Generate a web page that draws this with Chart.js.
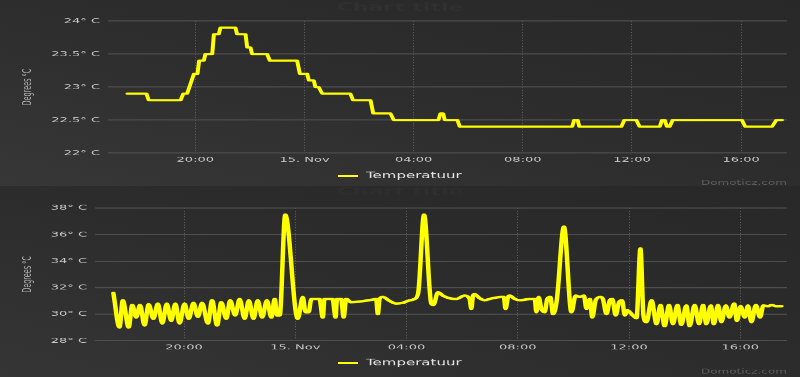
<!DOCTYPE html>
<html>
<head>
<meta charset="utf-8">
<title>Temperatuur</title>
<script src="https://cdn.jsdelivr.net/npm/chart.js@4.4.1/dist/chart.umd.min.js"></script>
<style>
    html, body {
        margin: 0;
        padding: 0;
        width: 800px;
        height: 377px;
        overflow: hidden;
        background: #2b2b2b;
    }
    .panel {
        position: relative;
        width: 800px;
        overflow: hidden;
    }
    /* the source screenshot is squashed vertically, so draw tall and scale down */
    .panel canvas {
        display: block;
        transform-origin: 0 0;
        transform: scaleY(0.55);
    }
    #topPanel {
        height: 186px;
        background: linear-gradient(to bottom left, #282828 0%, #2d2d2d 50%, #373737 100%);
    }
    #bottomPanel {
        height: 191px;
        background: linear-gradient(to bottom left, #282828 0%, #2c2c2c 50%, #353535 100%);
    }
</style>
</head>
<body>
<div class="panel" id="topPanel"><canvas id="topChart" width="800" height="338"></canvas></div>
<div class="panel" id="bottomPanel"><canvas id="bottomChart" width="800" height="347"></canvas></div>

<script>
// x values are hours relative to 15 Nov 00:00
const xTickHours = [-4, 0, 4, 8, 12, 16];
const xTickLabels = ['20:00', '15. Nov', '04:00', '08:00', '12:00', '16:00'];
const xMin = -7.2;
const xMax = 17.68;

const seriesName = 'Temperatuur';
const axisTitle = 'Degrees °C';
const chartTitle = 'Chart title';
const creditText = 'Domoticz.com';

// top chart
const topTicks = [22, 22.5, 23, 23.5, 24];
const topHours = [
    -6.49, -5.79, -5.71, -4.54, -4.44, -4.30, -4.05, -3.92, -3.86, -3.69,
    -3.63, -3.38, -3.32, -3.14, -3.08, -2.53, -2.47, -2.16, -2.10, -1.98,
    -1.92, -1.37, -1.27, -0.27, -0.17, 0.10, 0.16, 0.34, 0.40, 0.52,
    0.65, 1.68, 1.78, 2.42, 2.52, 3.15, 3.27, 4.91, 4.98, 5.08,
    5.14, 5.60, 5.69, 9.81, 9.88, 10.01, 10.07, 11.61, 11.72, 12.16,
    12.28, 13.02, 13.10, 13.20, 13.28, 13.38, 13.49, 16.03, 16.15, 17.13,
    17.29, 17.50
];
const topTemps = [
    22.9, 22.9, 22.8, 22.8, 22.9, 22.9, 23.2, 23.2, 23.4, 23.4,
    23.5, 23.5, 23.8, 23.8, 23.9, 23.9, 23.8, 23.8, 23.6, 23.6,
    23.5, 23.5, 23.4, 23.4, 23.2, 23.2, 23.1, 23.1, 23.0, 23.0,
    22.9, 22.9, 22.8, 22.8, 22.6, 22.6, 22.5, 22.5, 22.6, 22.6,
    22.5, 22.5, 22.4, 22.4, 22.5, 22.5, 22.4, 22.4, 22.5, 22.5,
    22.4, 22.4, 22.5, 22.5, 22.4, 22.4, 22.5, 22.5, 22.4, 22.4,
    22.5, 22.5
];

// bottom chart
const bottomTicks = [28, 30, 32, 34, 36, 38];
const bottomHours = [
    -6.54, -6.32, -6.20, -5.99, -5.86, -5.72, -5.58, -5.42, -5.27, -5.10,
    -4.94, -4.78, -4.62, -4.46, -4.31, -4.16, -3.98, -3.83, -3.66, -3.50,
    -3.35, -3.14, -2.99, -2.81, -2.66, -2.48, -2.34, -2.16, -2.00, -1.82,
    -1.67, -1.50, -1.35, -1.19, -1.02, -0.86, -0.74, -0.65, -0.56, -0.36,
    0.09, 0.27, 0.37, 0.48, 0.58, 0.87, 0.99, 1.05, 1.34, 1.45,
    1.50, 1.65, 1.74, 1.83, 2.01, 2.31, 2.79, 2.91, 2.97, 3.03,
    3.15, 3.39, 3.63, 3.86, 4.05, 4.29, 4.42, 4.63, 4.89, 4.97,
    5.13, 5.31, 5.55, 5.79, 6.09, 6.27, 6.33, 6.39, 6.45, 6.63,
    6.81, 6.99, 7.41, 7.50, 7.56, 7.65, 7.71, 7.89, 8.07, 8.49,
    8.61, 8.67, 8.75, 8.85, 8.97, 9.06, 9.17, 9.27, 9.40, 9.66,
    9.93, 10.08, 10.23, 10.38, 10.47, 10.59, 10.68, 10.80, 10.97, 11.06,
    11.19, 11.31, 11.40, 11.52, 11.64, 11.75, 11.85, 11.94, 12.14, 12.27,
    12.41, 12.52, 12.63, 12.81, 12.99, 13.13, 13.28, 13.44, 13.58, 13.74,
    13.88, 14.06, 14.18, 14.36, 14.52, 14.66, 14.78, 14.94, 15.05, 15.20,
    15.32, 15.48, 15.61, 15.78, 15.88, 16.01, 16.16, 16.28, 16.40, 16.56,
    16.71, 16.83, 17.00, 17.13, 17.28, 17.48
];
const bottomTemps = [
    31.6, 29.0, 31.05, 29.0, 30.7, 29.75, 30.7, 29.15, 30.75, 29.65,
    30.8, 29.3, 30.8, 29.5, 30.8, 29.3, 30.8, 29.65, 30.85, 29.8,
    30.85, 29.3, 31.05, 29.15, 30.9, 29.65, 31.05, 29.9, 31.15, 29.65,
    31.05, 29.65, 31.05, 29.75, 31.05, 29.75, 31.15, 29.9, 29.9, 37.5,
    29.65, 31.3, 30.15, 30.15, 31.15, 31.15, 29.75, 31.15, 31.15, 29.75,
    31.15, 31.15, 29.75, 31.15, 30.9, 30.95, 31.1, 31.15, 30.0, 31.15,
    31.3, 31.0, 30.8, 30.85, 31.0, 31.15, 31.6, 37.5, 30.8, 30.7,
    31.65, 31.4, 31.2, 31.15, 31.4, 31.15, 30.4, 31.4, 31.5, 31.2,
    31.05, 31.15, 31.3, 31.3, 30.4, 31.3, 31.4, 31.15, 31.05, 31.15,
    31.15, 30.15, 31.3, 30.4, 30.15, 31.15, 31.3, 30.0, 31.0, 36.6,
    30.15, 31.4, 31.3, 31.4, 30.4, 31.15, 29.75, 31.05, 31.3, 31.15,
    30.0, 31.05, 31.15, 29.9, 30.9, 31.05, 29.9, 30.3, 29.9, 29.7,
    34.95, 29.9, 29.4, 31.05, 29.25, 30.7, 29.1, 30.7, 29.25, 30.7,
    29.2, 30.65, 29.1, 30.7, 29.25, 30.7, 29.25, 30.65, 29.25, 30.7,
    29.4, 30.65, 29.75, 30.8, 29.5, 30.6, 29.75, 30.65, 29.4, 30.7,
    29.75, 30.65, 30.6, 30.7, 30.6, 30.6
];

const lineColor = '#ffff00';
const tickFont = { family: '"DejaVu Sans", Verdana, sans-serif', size: 13 };

/**
 * Title, legend and credits drawn in the reserved margins
 */
const decorPlugin = {
    id: 'decor',
    afterDraw(chart, args, opts) {
        const ctx = chart.ctx;
        const ds = chart.data.datasets[0];
        ctx.save();

        // faint chart title
        ctx.font = 'bold 22px "DejaVu Sans", sans-serif';
        ctx.fillStyle = opts.titleColor;
        ctx.textAlign = 'center';
        ctx.textBaseline = 'middle';
        ctx.fillText(chartTitle, 400, opts.titleY);

        // legend
        ctx.strokeStyle = ds.borderColor;
        ctx.lineWidth = 4;
        ctx.beginPath();
        ctx.moveTo(338, opts.legendY);
        ctx.lineTo(358, opts.legendY);
        ctx.stroke();
        ctx.font = '15px "DejaVu Sans", sans-serif';
        ctx.fillStyle = '#e2e2e2';
        ctx.textAlign = 'left';
        ctx.fillText(ds.label, 366, opts.legendY);

        // credits
        ctx.font = '12px "DejaVu Sans", sans-serif';
        ctx.fillStyle = '#5e5e5e';
        ctx.textAlign = 'right';
        ctx.fillText(creditText, 787, opts.creditY);

        ctx.restore();
    }
};

function buildChart(canvasId, cfg) {
    const points = cfg.hours.map((h, i) => ({ x: h, y: cfg.temps[i] }));

    return new Chart(document.getElementById(canvasId), {
        type: 'line',
        data: {
            datasets: [{
                label: seriesName,
                data: points,
                borderColor: lineColor,
                backgroundColor: lineColor,
                borderWidth: cfg.lineWidth,
                borderJoinStyle: 'round',
                borderCapStyle: 'round',
                pointRadius: 0,
                tension: cfg.smooth ? 0.4 : 0,
                cubicInterpolationMode: cfg.smooth ? 'monotone' : 'default',
                fill: false
            }]
        },
        options: {
            responsive: false,
            animation: false,
            events: [],
            layout: {
                padding: { top: cfg.padTop, right: 13, bottom: 0, left: 0 }
            },
            plugins: {
                legend: { display: false },
                tooltip: { enabled: false },
                decor: {
                    titleY: cfg.titleY,
                    titleColor: cfg.titleColor,
                    legendY: cfg.legendY,
                    creditY: cfg.creditY
                }
            },
            scales: {
                x: {
                    type: 'linear',
                    min: xMin,
                    max: xMax,
                    afterBuildTicks: scale => {
                        scale.ticks = xTickHours.map(v => ({ value: v }));
                    },
                    afterFit: scale => {
                        scale.height = cfg.xAxisHeight;
                    },
                    ticks: {
                        color: '#c8c8c8',
                        font: tickFont,
                        padding: 5,
                        maxRotation: 0,
                        autoSkip: false,
                        callback: value => xTickLabels[xTickHours.indexOf(value)]
                    },
                    grid: {
                        color: '#5e5e5e',
                        lineWidth: 1,
                        drawTicks: false
                    },
                    border: { display: false, dash: [2, 3] }
                },
                y: {
                    min: cfg.ticks[0],
                    max: cfg.ticks[cfg.ticks.length - 1],
                    afterBuildTicks: scale => {
                        scale.ticks = cfg.ticks.map(v => ({ value: v }));
                    },
                    afterFit: scale => {
                        scale.width = cfg.axisWidth;
                    },
                    ticks: {
                        color: '#c8c8c8',
                        font: tickFont,
                        padding: 8,
                        callback: value => value + '° C'
                    },
                    grid: {
                        color: '#4e4e4e',
                        lineWidth: 2,
                        drawTicks: false
                    },
                    border: { display: false },
                    title: {
                        display: true,
                        text: axisTitle,
                        color: '#b0b0b0',
                        font: { family: '"Liberation Sans Narrow", "DejaVu Sans Condensed", sans-serif', size: 13 },
                        padding: { top: 20, bottom: 0 }
                    }
                }
            }
        },
        plugins: [decorPlugin]
    });
}

buildChart('topChart', {
    hours: topHours,
    temps: topTemps,
    ticks: topTicks,
    lineWidth: 4,
    smooth: false,
    padTop: 38.2,
    axisWidth: 108,
    xAxisHeight: 59.8,
    titleY: 14.5,
    titleColor: '#303030',
    legendY: 320,
    creditY: 333
});

buildChart('bottomChart', {
    hours: bottomHours,
    temps: bottomTemps,
    ticks: bottomTicks,
    lineWidth: 4.5,
    smooth: true,
    padTop: 40,
    axisWidth: 95,
    xAxisHeight: 65.7,
    titleY: 11,
    titleColor: '#2e2e2e',
    legendY: 322,
    creditY: 338
});
</script>
</body>
</html>
